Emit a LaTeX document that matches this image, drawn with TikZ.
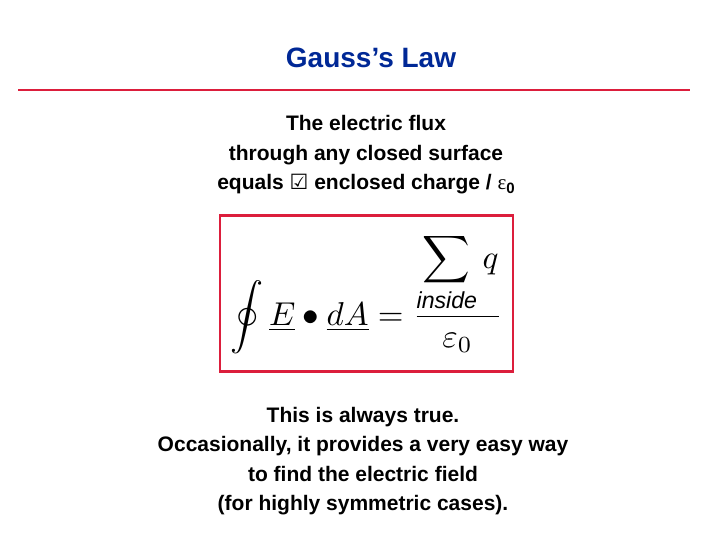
\documentclass[tikz,border=0pt]{standalone}
\usepackage{fontspec}
\usepackage{graphicx}
\setmainfont{Liberation Sans}
\newfontfamily\dejavu{DejaVu Sans}
\newfontfamily\serifgr{Liberation Serif}
\definecolor{titleblue}{RGB}{0,40,150}
\definecolor{rulered}{RGB}{220,30,60}
\begin{document}
\begin{tikzpicture}[x=1pt,y=-1pt,
  body/.style={align=center,font=\bfseries\fontsize{21}{29.5}\selectfont,inner sep=0pt}]
\useasboundingbox (0,0) rectangle (720,540);
\node[font=\bfseries\fontsize{28}{34}\selectfont,text=titleblue] (title) at (371,58) {Gauss’s Law};
\coordinate (l1) at (18,90);
\coordinate (l2) at (690,90);
\draw[rulered,line width=2.2pt] (l1) -- (l2);
\node[body] (top) at (366,155) {The electric flux\\ through any closed surface\\ equals {\dejavu\char"2611} enclosed charge / {\serifgr\mdseries ε}\raisebox{-0.35ex}{\fontsize{15}{15}\selectfont 0}};
\node[draw=rulered,line width=2.5pt,minimum width=293pt,minimum height=156pt,inner sep=0pt] (box) at (366.5,293.5)
  {\resizebox{272pt}{!}{$\displaystyle \oint \underline{E}\bullet\underline{dA}=\frac{\displaystyle\sum_{\mathit{inside}} q}{\varepsilon_0}$}};
\node[body] (bottom) at (363,461) {This is always true.\\ Occasionally, it provides a very easy way\\ to find the electric field\\ (for highly symmetric cases).};
\end{tikzpicture}
\end{document}
